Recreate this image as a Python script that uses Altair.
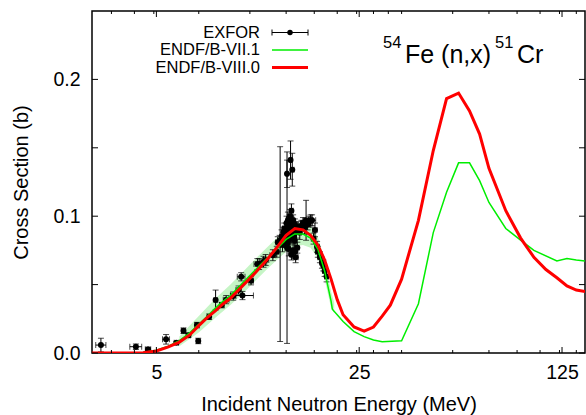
import altair as alt
import pandas as pd

# ---------------- data ----------------
# ENDF/B-VIII.0 (red)
red_e = [3, 4, 4.5, 5, 5.5, 6, 6.5, 7, 7.5, 8, 8.5, 9, 10, 11, 12, 13, 14, 15, 16, 17, 18, 19, 20, 21, 22, 24, 26, 28, 30, 32, 35, 40, 45, 50, 55, 60, 65, 70, 80, 90, 100, 110, 120, 130, 140, 150]
red_s = [0.0, 0.0, 0.0002, 0.0015, 0.0045, 0.008, 0.013, 0.020, 0.026, 0.031, 0.036, 0.040, 0.050, 0.059, 0.068, 0.077, 0.086, 0.091, 0.090, 0.086, 0.079, 0.068, 0.054, 0.039, 0.028, 0.019, 0.016, 0.019, 0.027, 0.035, 0.054, 0.097, 0.148, 0.186, 0.190, 0.177, 0.160, 0.135, 0.104, 0.084, 0.070, 0.061, 0.055, 0.049, 0.046, 0.045]

# ENDF/B-VII.1 (green)
green_e = [3, 4, 4.5, 5, 5.5, 6, 6.5, 7, 7.5, 8, 8.5, 9, 10, 11, 12, 13, 14, 15, 16, 17, 18, 19, 20, 20.2, 22, 24, 26, 28, 30, 35, 40, 45, 50, 55, 60, 65, 70, 80, 90, 100, 120, 130, 140, 150]
green_s = [0.0, 0.0, 0.0003, 0.002, 0.005, 0.009, 0.0145, 0.021, 0.027, 0.033, 0.038, 0.042, 0.052, 0.061, 0.069, 0.076, 0.083, 0.087, 0.087, 0.084, 0.076, 0.060, 0.038, 0.032, 0.023, 0.0156, 0.012, 0.0095, 0.0083, 0.009, 0.036, 0.088, 0.1175, 0.139, 0.139, 0.126, 0.110, 0.091, 0.0825, 0.075, 0.0673, 0.069, 0.068, 0.0673]

# ENDF/B-VII.1 uncertainty band
band_e = [6, 7, 8, 9, 10, 11, 12, 13, 14, 15, 16, 17, 18, 19, 20, 20.5]
band_lo = [0.005, 0.015, 0.026, 0.035, 0.044, 0.053, 0.061, 0.068, 0.074, 0.078, 0.079, 0.077, 0.069, 0.054, 0.033, 0.029]
band_hi = [0.012, 0.027, 0.040, 0.050, 0.060, 0.069, 0.077, 0.084, 0.091, 0.095, 0.095, 0.093, 0.085, 0.068, 0.045, 0.037]

# EXFOR measurements: energy, cross section, energy error, cross-section error
exfor_e = [3.22, 4.25, 4.68, 5.4, 5.86, 6.2, 6.45, 6.97, 6.9, 7.6, 8.0, 8.4, 8.7, 9.2, 9.6, 9.9, 9.8, 10.6, 11.15, 11.3, 11.7, 11.9, 12.6, 13.0, 13.1, 13.35, 14.1,
           14.1, 14.5, 14.7, 14.6, 13.5, 13.7, 13.9, 14.0, 14.2, 14.3, 14.4, 14.5, 14.6, 14.7, 14.8, 14.9, 15.0, 14.8, 15.1, 15.3,
           16.0, 16.4, 16.8, 17.0, 17.4, 17.9, 18.3, 18.6, 19.0,
           13.3, 13.6, 13.8, 14.0, 14.05, 14.1, 14.15, 14.2, 14.25, 14.3, 14.35, 14.4, 14.45, 14.5, 14.55, 14.6, 14.65, 14.7, 14.8, 14.9,
           15.0, 15.2, 15.4, 15.6, 15.8, 16.2, 16.6, 17.2, 17.6, 14.3, 14.6, 15.0, 18.0, 18.8, 19.3]
exfor_s = [0.0058, 0.0046, 0.0027, 0.0100, 0.0075, 0.0163, 0.0130, 0.0088, 0.0204, 0.0265, 0.0387, 0.0350, 0.0390, 0.0416, 0.0460, 0.0420, 0.0557, 0.0528, 0.0650, 0.0650, 0.0667, 0.0680, 0.0715, 0.0740, 0.0810, 0.0796, 0.0770,
           0.131, 0.141, 0.134, 0.104, 0.085, 0.088, 0.083, 0.090, 0.092, 0.086, 0.095, 0.088, 0.091, 0.087, 0.093, 0.085, 0.082, 0.075, 0.070, 0.077,
           0.095, 0.097, 0.096, 0.097, 0.0836, 0.0776, 0.070, 0.066, 0.060,
           0.082, 0.079, 0.091, 0.084, 0.095, 0.088, 0.080, 0.097, 0.090, 0.093, 0.083, 0.089, 0.100, 0.094, 0.086, 0.096, 0.092, 0.089, 0.097, 0.091,
           0.094, 0.089, 0.092, 0.088, 0.093, 0.092, 0.094, 0.097, 0.090, 0.076, 0.072, 0.074, 0.074, 0.064, 0.056]
exfor_de = [0.13, 0.2, 0.1, 0.15, 0.1, 0.1, 0.1, 0.1, 0.1, 0.1, 0.1, 0.15, 0.2, 0.2, 0.2, 0.9, 0.3, 0.2, 0.3, 0.3, 0.3, 0.3, 0.3, 0.2, 0.2, 0.1, 0.1,
            0.1, 0.15, 0.2, 0.2, 0.2, 0.2, 0.3, 0.2, 0.2, 0.3, 0.2, 0.2, 0.3, 0.2, 0.2, 0.3, 0.2, 0.3, 0.3, 0.2,
            0.3, 0.3, 0.4, 0.3, 0.3, 0.3, 0.3, 0.3, 0.3,
            0.2, 0.2, 0.2, 0.3, 0.1, 0.2, 0.3, 0.2, 0.1, 0.2, 0.3, 0.1, 0.2, 0.3, 0.1, 0.2, 0.1, 0.3, 0.2, 0.2,
            0.3, 0.2, 0.3, 0.2, 0.3, 0.3, 0.4, 0.5, 0.3, 0.2, 0.2, 0.3, 0.3, 0.3, 0.3]
exfor_ds = [0.005, 0.002, 0.001, 0.0035, 0.001, 0.002, 0.0015, 0.002, 0.002, 0.002, 0.0073, 0.002, 0.003, 0.003, 0.003, 0.003, 0.003, 0.003, 0.004, 0.004, 0.004, 0.004, 0.004, 0.004, 0.004, 0.0712, 0.070,
            0.010, 0.014, 0.012, 0.005, 0.005, 0.004, 0.006, 0.005, 0.004, 0.005, 0.006, 0.004, 0.005, 0.004, 0.005, 0.004, 0.005, 0.005, 0.004, 0.004,
            0.004, 0.0146, 0.004, 0.004, 0.004, 0.004, 0.004, 0.004, 0.004,
            0.004, 0.005, 0.004, 0.006, 0.005, 0.004, 0.005, 0.006, 0.004, 0.005, 0.004, 0.006, 0.005, 0.004, 0.005, 0.004, 0.006, 0.005, 0.004, 0.005,
            0.004, 0.005, 0.004, 0.005, 0.004, 0.005, 0.004, 0.004, 0.005, 0.005, 0.004, 0.005, 0.004, 0.004, 0.004]

x_major = [5, 25, 125]
x_minor = [3.5, 4.2, 4.9, 7, 10.5, 14, 17.5, 21, 24.5, 28, 31.5, 35, 52.5, 70, 87.5, 105, 122.5, 140]
y_major = [0.0, 0.1, 0.2]
y_minor = [0.05, 0.15]

legend_labels = ["EXFOR", "ENDF/B-VII.1", "ENDF/B-VIII.0"]
title_parts = ["54", "Fe (n,x)", "51", "Cr"]

# ---------------- tables ----------------
red_df = pd.DataFrame({"e": red_e, "s": red_s})
green_df = pd.DataFrame({"e": green_e, "s": green_s})
band_df = pd.DataFrame({"e": band_e, "lo": band_lo, "hi": band_hi})
ex_df = pd.DataFrame({"e": exfor_e, "s": exfor_s, "de": exfor_de, "ds": exfor_ds})
ex_df["elo"] = ex_df["e"] - ex_df["de"]
ex_df["ehi"] = ex_df["e"] + ex_df["de"]
ex_df["slo"] = ex_df["s"] - ex_df["ds"]
ex_df["shi"] = ex_df["s"] + ex_df["ds"]

# ---------------- layout ----------------
W, H = 493, 342
FONT = "Liberation Sans"

xscale = alt.Scale(type="log", domain=[3, 150], nice=False)
yscale = alt.Scale(domain=[0, 0.25], nice=False, zero=False)

xaxis = alt.Axis(values=x_major, format="d", ticks=False, tickSize=0, domain=False, grid=False,
                 labelFontSize=19.5, labelFont=FONT, labelColor="black", labelPadding=10,
                 labelFlush=False, labelOverlap=False,
                 title="Incident Neutron Energy (MeV)", titleFont=FONT, titleFontSize=20,
                 titleFontWeight="normal", titleColor="black", titleY=57, titleBaseline="alphabetic")
yaxis = alt.Axis(values=y_major, format=".1f", ticks=False, tickSize=0, domain=False, grid=False,
                 labelFontSize=19.5, labelFont=FONT, labelColor="black", labelPadding=12,
                 labelOverlap=False,
                 title="Cross Section (b)", titleFont=FONT, titleFontSize=20,
                 titleFontWeight="normal", titleColor="black", titleX=-65, titleBaseline="alphabetic")


def X(f):
    return alt.X(f"{f}:Q", scale=xscale, axis=xaxis)


def Y(f):
    return alt.Y(f"{f}:Q", scale=yscale, axis=yaxis)


layers = []

# uncertainty band
layers.append(alt.Chart(band_df).mark_area(color="#c6f5c6", opacity=1).encode(
    x=X("e"), y=Y("lo"), y2="hi"))

# EXFOR error bars
base_ex = alt.Chart(ex_df)
layers.append(base_ex.mark_rule(color="black", strokeWidth=1).encode(x=X("e"), y=Y("slo"), y2="shi"))
layers.append(base_ex.mark_rule(color="black", strokeWidth=1).encode(x=X("elo"), x2="ehi", y=Y("s")))
for f in ["slo", "shi"]:
    layers.append(base_ex.mark_tick(orient="horizontal", size=6, thickness=1, color="black").encode(
        x=X("e"), y=Y(f)))
for f in ["elo", "ehi"]:
    layers.append(base_ex.mark_tick(orient="vertical", size=6, thickness=1, color="black").encode(
        x=X(f), y=Y("s")))
layers.append(base_ex.mark_circle(size=36, color="black", opacity=1).encode(x=X("e"), y=Y("s")))

# evaluations
layers.append(alt.Chart(green_df).mark_line(color="#00ee00", strokeWidth=1.5, clip=True).encode(
    x=X("e"), y=Y("s")))
layers.append(alt.Chart(red_df).mark_line(color="#ff0000", strokeWidth=3, clip=True).encode(
    x=X("e"), y=Y("s")))

# inward ticks (bottom/top, left/right)
xt_major = pd.DataFrame({"t": x_major})
xt_minor = pd.DataFrame({"t": x_minor})
yt_major = pd.DataFrame({"t": y_major})
yt_minor = pd.DataFrame({"t": y_minor})
for df, ln in [(xt_major, 6), (xt_minor, 3)]:
    layers.append(alt.Chart(df).mark_rule(color="black", strokeWidth=1).encode(
        x=X("t"), y=alt.value(H), y2=alt.value(H - ln)))
    layers.append(alt.Chart(df).mark_rule(color="black", strokeWidth=1).encode(
        x=X("t"), y=alt.value(0), y2=alt.value(ln)))
for df, ln in [(yt_major, 6), (yt_minor, 6)]:
    layers.append(alt.Chart(df).mark_rule(color="black", strokeWidth=1).encode(
        y=Y("t"), x=alt.value(0), x2=alt.value(ln)))
    layers.append(alt.Chart(df).mark_rule(color="black", strokeWidth=1).encode(
        y=Y("t"), x=alt.value(W), x2=alt.value(W - ln)))

# legend (gnuplot style: label on the left, sample on the right)
one = pd.DataFrame({"k": [0]})
LX_TEXT, LX0, LX1 = 168, 180, 216
ROWS = [21.5, 39, 56.5]
for lab, ry in zip(legend_labels, ROWS):
    layers.append(alt.Chart(one).mark_text(text=lab, align="right", baseline="middle", font=FONT,
                                           fontSize=16.5, color="black").encode(
        x=alt.value(LX_TEXT), y=alt.value(ry)))
# EXFOR sample
layers.append(alt.Chart(one).mark_rule(color="black", strokeWidth=1).encode(
    x=alt.value(LX0), x2=alt.value(LX1), y=alt.value(ROWS[0])))
for xx in [LX0, LX1]:
    layers.append(alt.Chart(one).mark_rule(color="black", strokeWidth=1).encode(
        x=alt.value(xx), y=alt.value(ROWS[0] - 3), y2=alt.value(ROWS[0] + 3)))
layers.append(alt.Chart(one).mark_circle(size=30, color="black", opacity=1).encode(
    x=alt.value((LX0 + LX1) / 2), y=alt.value(ROWS[0])))
# line samples
layers.append(alt.Chart(one).mark_rule(color="#00ee00", strokeWidth=1.5).encode(
    x=alt.value(LX0), x2=alt.value(LX1), y=alt.value(ROWS[1])))
layers.append(alt.Chart(one).mark_rule(color="#ff0000", strokeWidth=3).encode(
    x=alt.value(LX0), x2=alt.value(LX1), y=alt.value(ROWS[2])))

# reaction label with superscripts
title_pos = [(291, 37, 16.5), (313, 52, 25), (403, 37, 16.5), (425, 52, 25)]
for txt, (tx, ty, fs) in zip(title_parts, title_pos):
    layers.append(alt.Chart(one).mark_text(text=txt, align="left", baseline="alphabetic", font=FONT,
                                           fontSize=fs, color="black").encode(
        x=alt.value(tx), y=alt.value(ty)))

chart = alt.layer(*layers).properties(
    width=W, height=H,
    padding={"left": 92, "top": 11, "right": 1, "bottom": 62},
    autosize=alt.AutoSizeParams(type="none"),
    background="white",
).configure_view(stroke="black", strokeWidth=1.5)

chart.save("out.html", embed_options={"renderer": "svg", "actions": False})
